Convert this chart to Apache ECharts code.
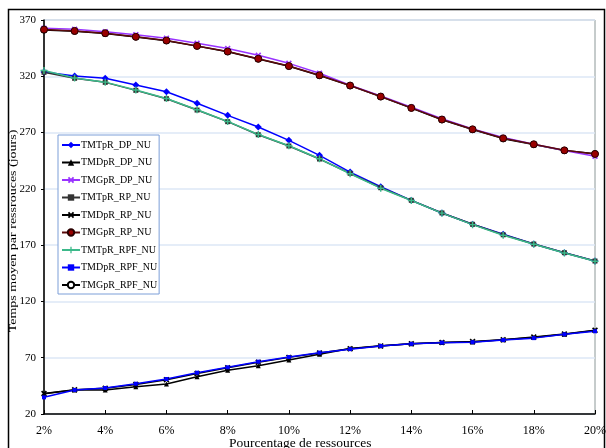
<!DOCTYPE html>
<html><head><meta charset="utf-8">
<script src="https://cdn.jsdelivr.net/npm/echarts@6/dist/echarts.min.js"></script>
<style>html,body{margin:0;padding:0;background:#fff}#c{width:606px;height:448px}</style>
</head><body><div id="c"></div>
<script>
const categories = ['2%','3%','4%','5%','6%','7%','8%','9%','10%','11%','12%','13%','14%','15%','16%','17%','18%','19%','20%'];
const yTicks = [20, 70, 120, 170, 220, 270, 320, 370];
const TMTpR_DP_NU  = [323.8,320.3,318.2,312.3,306.3,296.0,285.3,274.9,263.1,249.8,234.9,221.9,209.8,198.6,188.5,179.6,171.0,163.3,155.9];
const TMDpR_DP_NU  = [38.0,41.3,41.3,44.3,46.6,53.1,58.8,62.8,67.9,73.0,78.2,80.6,82.4,83.5,84.0,85.9,88.0,90.9,94.2];
const TMGpR_DP_NU  = [362.6,361.7,359.6,357.0,353.7,349.3,344.6,338.6,331.5,322.7,312.0,302.5,292.5,282.3,273.2,265.6,259.6,254.0,249.0];
const TMTpR_RP_NU  = [323.5,318.2,314.6,307.5,300.1,290.0,279.7,268.1,258.1,246.5,233.8,221.0,209.8,198.6,188.5,179.2,171.0,163.3,155.9];
const TMDpR_RP_NU  = [38.2,41.6,42.8,46.3,50.5,56.0,61.0,66.0,70.3,74.2,77.9,80.5,82.4,83.5,84.3,85.9,88.3,91.0,94.4];
const TMGpR_RP_NU  = [361.5,360.3,358.3,355.1,351.8,347.0,342.0,335.6,329.1,320.9,311.8,302.0,291.9,281.6,272.9,264.9,259.6,254.2,251.0];
const TMTpR_RPF_NU = [325.2,318.5,314.8,307.8,300.3,290.3,279.9,268.3,258.3,246.7,233.4,220.6,209.6,198.4,188.2,178.8,170.8,163.0,155.7];
const TMDpR_RPF_NU = [34.8,41.3,43.1,46.9,51.1,56.7,61.5,66.5,70.6,74.5,77.6,80.4,82.3,83.4,83.8,85.7,87.4,90.8,93.5];
const TMGpR_RPF_NU = [361.2,360.1,358.1,354.8,351.5,346.8,341.8,335.4,328.9,320.7,311.7,301.9,291.8,281.4,272.7,264.6,259.3,254.1,251.2];

const FONT = '"Liberation Serif","Times New Roman",serif';
const X_SYM = 'path://M2,0L5,3L8,0L10,2L7,5L10,8L8,10L5,7L2,10L0,8L3,5L0,2Z';
const PLUS_SYM = 'path://M4,0H6V4H10V6H6V10H4V6H0V4H4Z';

function mk(name, data, color, symbol, size, extra) {
  return Object.assign({
    name, type: 'line', data, symbol, symbolSize: size,
    lineStyle: { color, width: 1.5 },
    itemStyle: { color },
    animation: false
  }, extra || {});
}

const legendNames = ['TMTpR_DP_NU','TMDpR_DP_NU','TMGpR_DP_NU','TMTpR_RP_NU','TMDpR_RP_NU','TMGpR_RP_NU','TMTpR_RPF_NU','TMDpR_RPF_NU','TMGpR_RPF_NU'];

const series = [
  mk('TMGpR_DP_NU', TMGpR_DP_NU, '#9933ff', X_SYM, 6),
  mk('TMGpR_RPF_NU', TMGpR_RPF_NU, '#000000', 'emptyCircle', 5, { itemStyle: { color: '#000000', borderWidth: 1 }, z: 2 }),
  mk('TMGpR_RP_NU', TMGpR_RP_NU, '#9a1818', 'circle', 7, { itemStyle: { color: '#990000', borderColor: '#2a0000', borderWidth: 1 }, lineStyle: { color: '#5a0a0a', width: 1.5 }, z: 3 }),
  mk('TMTpR_DP_NU', TMTpR_DP_NU, '#0000ff', 'diamond', 7),
  mk('TMTpR_RP_NU', TMTpR_RP_NU, '#333333', 'rect', 5),
  mk('TMTpR_RPF_NU', TMTpR_RPF_NU, '#3cb98a', PLUS_SYM, 7),
  mk('TMDpR_DP_NU', TMDpR_DP_NU, '#000000', 'triangle', 5),
  mk('TMDpR_RP_NU', TMDpR_RP_NU, '#000000', X_SYM, 6),
  mk('TMDpR_RPF_NU', TMDpR_RPF_NU, '#0000ff', 'rect', 4)
];

const chart = echarts.init(document.getElementById('c'), null, { renderer: 'canvas' });
chart.setOption({
  animation: false,
  backgroundColor: '#ffffff',
  textStyle: { fontFamily: FONT },
  grid: { left: 44, top: 20, right: 11, bottom: 34, containLabel: false, outerBoundsMode: 'none', show: true, borderColor: '#8c9898', borderWidth: 1, backgroundColor: 'transparent' },
  graphic: [
    { type: 'rect', shape: { x: 8.5, y: 9.5, width: 596, height: 460 }, style: { fill: 'none', stroke: '#000', lineWidth: 1.5 }, z: 100, silent: true },
    { type: 'text', left: 229, top: 436, style: { text: 'Pourcentage de ressources', font: '13.5px ' + FONT, fill: '#000' } },
    { type: 'text', x: 13.5, y: 231, rotation: Math.PI / 2, scaleY: 0.75, style: { text: 'Temps moyen par ressrouces (jours)', font: '14px ' + FONT, fill: '#000', align: 'center', verticalAlign: 'middle' } }
  ],
  legend: {
    orient: 'vertical', left: 58, top: 135,
    padding: [3, 2, 2, 3], itemGap: 3.5, itemWidth: 18, itemHeight: 8,
    backgroundColor: '#ffffff', borderColor: '#7c9fd8', borderWidth: 1,
    textStyle: { fontFamily: FONT, fontSize: 10, color: '#000', lineHeight: 14, padding: [0, 0, 0, -4] },
    data: legendNames
  },
  xAxis: {
    type: 'category', data: categories, boundaryGap: false,
    axisLine: { lineStyle: { color: '#000', width: 1.5 } },
    axisTick: { inside: true, length: 4, interval: 1, lineStyle: { color: '#000' } },
    axisLabel: { interval: 1, color: '#000', fontFamily: FONT, fontSize: 12, margin: 11 },
    splitLine: { show: false }
  },
  yAxis: {
    type: 'value', min: yTicks[0], max: yTicks[yTicks.length - 1], interval: 50,
    axisLine: { show: true, lineStyle: { color: '#000', width: 1.5 } },
    axisTick: { show: true, length: 3, lineStyle: { color: '#000' } },
    axisLabel: { color: '#000', fontFamily: FONT, fontSize: 11, margin: 8 },
    splitLine: { show: true, lineStyle: { color: '#dde7f6', width: 1.5 } }
  },
  series
});
</script></body></html>
